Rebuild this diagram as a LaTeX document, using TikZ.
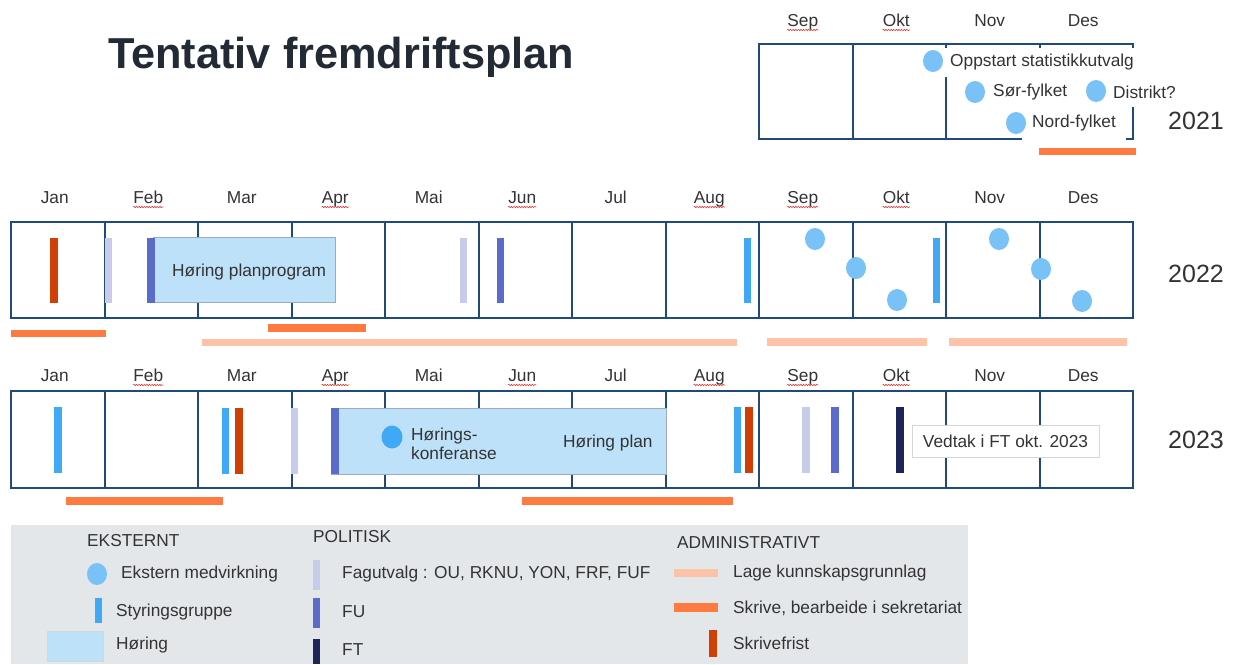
\documentclass[tikz,border=0pt]{standalone}
\usepackage{fontspec}
\setmainfont{Liberation Sans}
\usetikzlibrary{shapes.geometric,decorations.pathmorphing}
\definecolor{gridblue}{HTML}{1F4A7A}
\definecolor{txt}{HTML}{333333}
\definecolor{titlecol}{HTML}{222A35}
\definecolor{dot}{HTML}{79C2F7}
\definecolor{styr}{HTML}{3FA9F5}
\definecolor{fag}{HTML}{C7CCEB}
\definecolor{fu}{HTML}{5B6BC9}
\definecolor{ft}{HTML}{1C2558}
\definecolor{frist}{HTML}{CF3F06}
\definecolor{skrive}{HTML}{FD7A40}
\definecolor{lage}{HTML}{FCC3A8}
\definecolor{horfill}{HTML}{BEE1FA}
\definecolor{horline}{HTML}{9AABBE}
\definecolor{legbg}{HTML}{E4E7EA}
\definecolor{squigred}{HTML}{E03C3C}
\definecolor{boxgray}{HTML}{D6D6D6}
\begin{document}
\begin{tikzpicture}[x=1pt,y=-1pt,
  grid/.style={draw=gridblue,line width=2pt},
  month/.style={anchor=base,text=txt,font=\fontsize{17.3}{20}\selectfont,inner sep=0pt},
  year/.style={anchor=base west,text=txt,font=\fontsize{25}{30}\selectfont,inner sep=0pt},
  lbl/.style={anchor=west,text=txt,font=\fontsize{17.3}{19}\selectfont,inner sep=0pt},
  wlbl/.style={anchor=west,text=txt,font=\fontsize{17.3}{19}\selectfont,fill=white,inner ysep=0pt},
  dotn/.style={ellipse,fill=dot,minimum width=20pt,minimum height=22pt,inner sep=0pt},
  squig/.style={draw=squigred,line width=0.6pt,decorate,decoration={snake,amplitude=0.7pt,segment length=2.6pt}},
  horing/.style={fill=horfill,draw=horline,line width=1.3pt,inner sep=0pt},
]
\useasboundingbox (0,0) rectangle (1242,664);
\fill[white] (0,0) rectangle (1242,664);

% title
\node[anchor=base west,inner sep=0pt,text=titlecol,font=\fontsize{43.3}{50}\selectfont\bfseries] (title) at (108,68) {Tentativ fremdriftsplan};

% month labels
\foreach \m [count=\i] in {Jan,Feb,Mar,Apr,Mai,Jun,Jul,Aug,Sep,Okt,Nov,Des}{
  \node[month] (a\i) at ({11+93.5*(\i-0.5)-3},203) {\m};
  \node[month] (b\i) at ({11+93.5*(\i-0.5)-3},381) {\m};
}
\foreach \m [count=\i from 9] in {Sep,Okt,Nov,Des}{
  \node[month] (c\i) at ({11+93.5*(\i-0.5)-3},26) {\m};
}
\foreach \n in {a2,a4,a6,a8,a9,a10,b2,b4,b6,b8,b9,b10,c9,c10}{
  \draw[squig] ([yshift=-4pt]\n.base west) -- ([yshift=-4pt]\n.base east);
}

% years
\node[year] (y21) at (1168,129) {2021};
\node[year] (y22) at (1168,282) {2022};
\node[year] (y23) at (1168,448) {2023};

% grids
\draw[grid] (759,44) rectangle (1133,139);
\foreach \x in {852.5,946,1039.5} \draw[grid] (\x,44) -- (\x,139);
\draw[grid] (11,222) rectangle (1133,318);
\foreach \i in {1,...,11} \draw[grid] ({11+93.5*\i},222) -- ({11+93.5*\i},318);
\draw[grid] (11,391) rectangle (1133,488);
\foreach \i in {1,...,11} \draw[grid] ({11+93.5*\i},391) -- ({11+93.5*\i},488);

% 2021 contents
\node[wlbl,inner xsep=6pt,minimum height=29pt] (t1) at (944,62.5) {Oppstart statistikkutvalg};
\node[wlbl,inner xsep=5pt,minimum height=30pt] (t2) at (988,92) {Sør-fylket};
\node[wlbl,inner xsep=5pt,minimum height=30pt] (t3) at (1108,92) {Distrikt?};
\node[wlbl,inner xsep=10pt,minimum height=33pt] (t4) at (1022,123.5) {Nord-fylket};
\node[dotn] (e1) at (933,61) {};
\node[dotn] (e2) at (975,92) {};
\node[dotn] (e3) at (1096,91) {};
\node[dotn] (e4) at (1016,123) {};
\fill[skrive] (1039,148) rectangle (1136,155);

% 2022 contents
\fill[frist] (50,238) rectangle (58,303);
\fill[fag] (105,238) rectangle (112,303);
\node[horing,anchor=north west,minimum width=182pt,minimum height=65pt] (hp) at (153,237) {};
\node[lbl] (hpt) at (172,272) {Høring planprogram};
\fill[fu] (147,238) rectangle (155,303);
\fill[fag] (460,238) rectangle (467,303);
\fill[fu] (497,238) rectangle (504,303);
\fill[styr] (744,238) rectangle (751,303);
\fill[styr] (933,238) rectangle (940,303);
\node[dotn] (f1) at (815,239) {};
\node[dotn] (f2) at (856,268) {};
\node[dotn] (f3) at (897,300) {};
\node[dotn] (f4) at (999,239) {};
\node[dotn] (f5) at (1041,269) {};
\node[dotn] (f6) at (1082,301) {};
\fill[skrive] (11,330) rectangle (106,337);
\fill[skrive] (268,324) rectangle (366,332);
\fill[lage] (202,339) rectangle (737,346);
\fill[lage] (767,338) rectangle (927,346);
\fill[lage] (949,338) rectangle (1127,346);

% 2023 contents
\fill[styr] (54,407) rectangle (62,473);
\fill[styr] (222,408) rectangle (229,474);
\fill[frist] (235,408) rectangle (243,474);
\fill[fag] (291,408) rectangle (298,474);
\node[horing,anchor=north west,minimum width=335pt,minimum height=66pt] (hpl) at (331,407.5) {};
\fill[fu] (331,408) rectangle (339,474);
\node[ellipse,fill=styr,minimum width=21pt,minimum height=23pt,inner sep=0pt] (hk) at (392,437) {};
\node[lbl,align=left] (hkt) at (411,444) {Hørings-\\konferanse};
\node[lbl] (hplt) at (563,443) {Høring plan};
\fill[styr] (734,407) rectangle (741,473);
\fill[frist] (745,407) rectangle (753,473);
\fill[fag] (802,407) rectangle (810,473);
\fill[fu] (831,407) rectangle (839,473);
\fill[ft] (896,407) rectangle (904,473);
\node[draw=boxgray,line width=1pt,fill=white,text=txt,font=\fontsize{17.3}{20}\selectfont,minimum width=187pt,minimum height=32pt,inner sep=0pt] (vedtak) at (1005.5,441) {Vedtak i FT okt. 2023};
\fill[skrive] (66,497) rectangle (223,505);
\fill[skrive] (522,497) rectangle (733,505);

% legend
\fill[legbg] (11,525) rectangle (968,664);
\node[lbl] (lgE) at (87,541) {EKSTERNT};
\node[dotn] (lgdot) at (97,574) {};
\node[lbl] (lgEm) at (121,574) {Ekstern medvirkning};
\fill[styr] (95,598) rectangle (102,623);
\node[lbl] (lgS) at (116,612) {Styringsgruppe};
\fill[horfill,draw=boxgray,line width=1pt] (47,631) rectangle (103,661);
\node[lbl] (lgH) at (116,645) {Høring};
\node[lbl] (lgP) at (313,537) {POLITISK};
\fill[fag] (313,560) rectangle (320,590);
\node[lbl] (lgF) at (342,574) {Fagutvalg : OU, RKNU, YON, FRF, FUF};
\fill[fu] (313,598) rectangle (320,628);
\node[lbl] (lgFU) at (342,612) {FU};
\fill[ft] (313,639) rectangle (320,664);
\node[lbl] (lgFT) at (342,650) {FT};
\node[lbl] (lgA) at (677,543) {ADMINISTRATIVT};
\fill[lage] (674,569) rectangle (718,577);
\node[lbl] (lgL) at (733,573) {Lage kunnskapsgrunnlag};
\fill[skrive] (674,603) rectangle (718,612);
\node[lbl] (lgSk) at (733,608) {Skrive, bearbeide i sekretariat};
\fill[frist] (709,630) rectangle (717,657);
\node[lbl] (lgSf) at (733,643) {Skrivefrist};
\end{tikzpicture}
\end{document}
